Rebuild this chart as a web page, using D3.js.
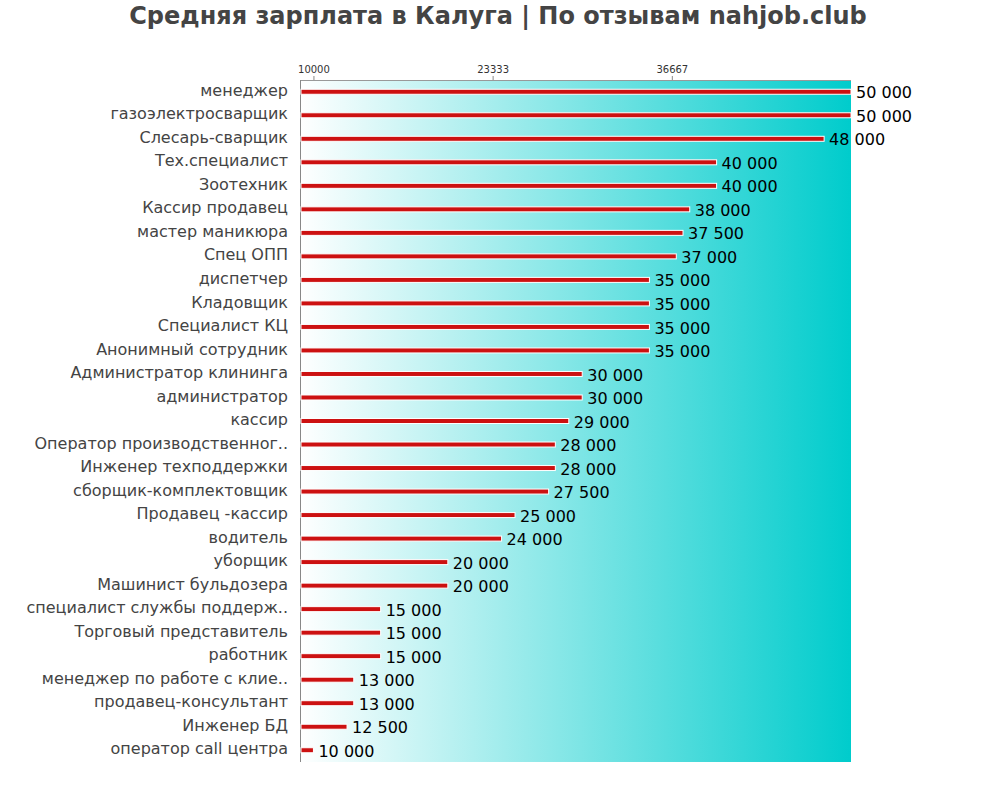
<!DOCTYPE html>
<html>
<head>
<meta charset="utf-8">
<script src="https://cdn.jsdelivr.net/npm/d3@7"></script>
<style>
  body { margin: 0; background: #fff; }
  svg { font-family: "DejaVu Sans", sans-serif; }
</style>
</head>
<body>
<script>
const width = 1000, height = 800
const margin = ({top: 80, right: 149, bottom: 38, left: 300})

const jobs = ["менеджер", "газоэлектросварщик", "Слесарь-сварщик", "Тех.специалист", "Зоотехник",
  "Кассир продавец", "мастер маникюра", "Спец ОПП", "диспетчер", "Кладовщик", "Специалист КЦ",
  "Анонимный сотрудник", "Администратор клининга", "администратор", "кассир",
  "Оператор производственног..", "Инженер техподдержки", "сборщик-комплектовщик",
  "Продавец -кассир", "водитель", "уборщик", "Машинист бульдозера",
  "специалист службы поддерж..", "Торговый представитель", "работник",
  "менеджер по работе с клие..", "продавец-консультант", "Инженер БД", "оператор call центра"]
const salaries = [50000, 50000, 48000, 40000, 40000, 38000, 37500, 37000, 35000, 35000, 35000,
  35000, 30000, 30000, 29000, 28000, 28000, 27500, 25000, 24000, 20000, 20000,
  15000, 15000, 15000, 13000, 13000, 12500, 10000]
const tickValues = [10000, 23333, 36667]

const data = jobs.map((d, i) => ({name: d, value: salaries[i]}))

const x = d3.scaleLinear()
  .domain([9000, 50000])
  .range([margin.left, width - margin.right])

const y = d3.scaleBand()
  .domain(jobs)
  .range([margin.top, height - margin.bottom])

const fmt = v => d3.format(",")(v).replace(/,/g, " ")

const svg = d3.select("body").append("svg")
  .attr("width", width)
  .attr("height", height)

const grad = svg.append("defs").append("linearGradient")
  .attr("id", "bg")
  .attr("x1", "0%").attr("x2", "100%")
grad.append("stop").attr("offset", "0%").attr("stop-color", "#ffffff")
grad.append("stop").attr("offset", "100%").attr("stop-color", "#00cccc")

svg.append("rect")
  .attr("x", margin.left)
  .attr("y", margin.top)
  .attr("width", width - margin.right - margin.left)
  .attr("height", height - margin.bottom - margin.top)
  .attr("fill", "url(#bg)")

// title
svg.append("text")
  .attr("x", 498)
  .attr("y", 24)
  .attr("text-anchor", "middle")
  .attr("font-size", 24)
  .attr("font-weight", "bold")
  .attr("fill", "#444")
  .text("Средняя зарплата в Калуга | По отзывам nahjob.club")

// top axis
svg.append("g")
  .attr("transform", `translate(0,${margin.top})`)
  .call(d3.axisTop(x).tickValues(tickValues).tickSize(4).tickFormat(d => d))
  .call(g => g.select(".domain").remove())
  .call(g => g.selectAll(".tick line").attr("stroke", "#888"))
  .call(g => g.selectAll(".tick text").attr("font-size", 10).attr("fill", "#333")
    .attr("font-family", "DejaVu Sans"))

// borders
svg.append("line")
  .attr("x1", margin.left).attr("x2", width - margin.right)
  .attr("y1", margin.top + 0.5).attr("y2", margin.top + 0.5)
  .attr("stroke", "#999")
svg.append("line")
  .attr("x1", margin.left + 0.5).attr("x2", margin.left + 0.5)
  .attr("y1", margin.top).attr("y2", height - margin.bottom)
  .attr("stroke", "#888")

// category labels
svg.append("g")
  .selectAll("text")
  .data(data)
  .join("text")
    .attr("x", 288)
    .attr("y", d => y(d.name) + y.bandwidth() / 2 - 1.5)
    .attr("dy", "0.35em")
    .attr("text-anchor", "end")
    .attr("font-size", 16)
    .attr("fill", "#444")
    .text(d => d.name)

// bars
svg.append("g")
  .selectAll("rect")
  .data(data)
  .join("rect")
    .attr("x", margin.left + 1)
    .attr("y", d => y(d.name) + y.bandwidth() / 2 - 2.5)
    .attr("width", d => x(d.value) - margin.left - 1)
    .attr("height", 5)
    .attr("fill", "#cc1111")
    .attr("stroke", "#fff")
    .attr("stroke-width", 1)

// value labels
svg.append("g")
  .selectAll("text")
  .data(data)
  .join("text")
    .attr("x", d => x(d.value) + 5)
    .attr("y", d => y(d.name) + y.bandwidth() / 2 + 1)
    .attr("dy", "0.35em")
    .attr("font-size", 16)
    .attr("fill", "#000")
    .text(d => fmt(d.value))
</script>
</body>
</html>
